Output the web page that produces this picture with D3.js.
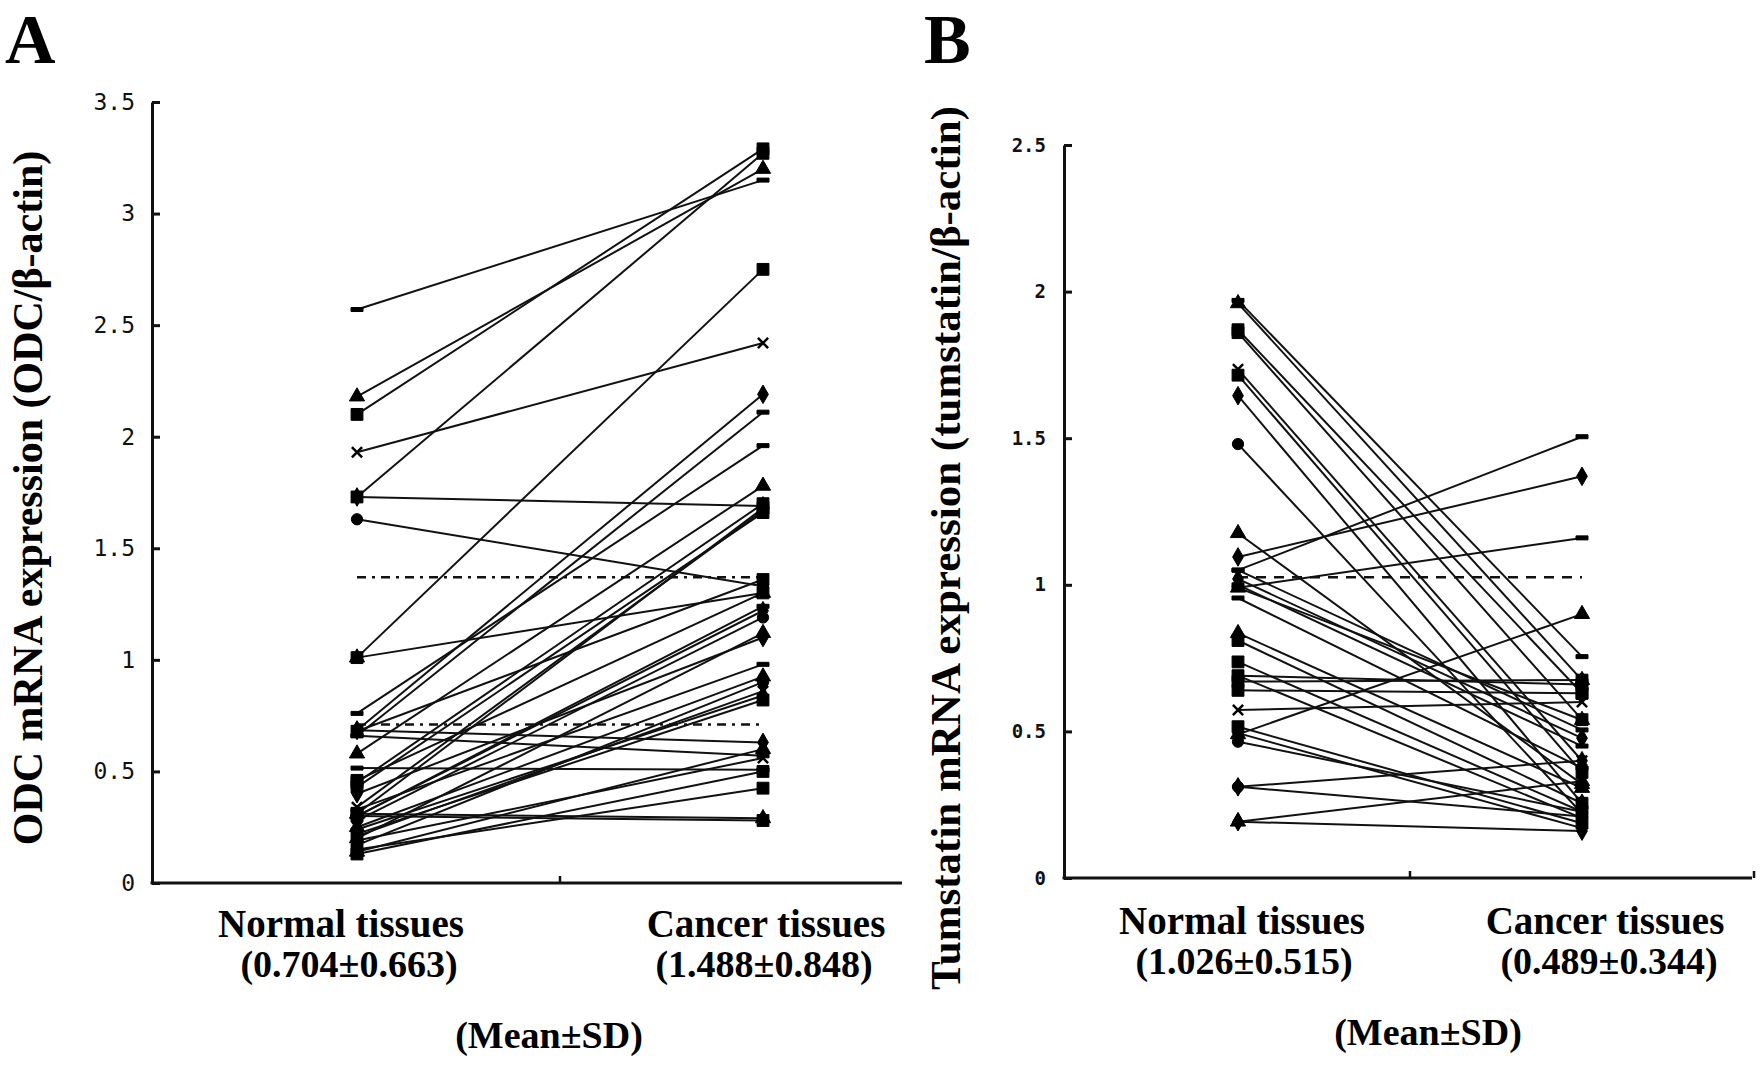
<!DOCTYPE html>
<html>
<head>
<meta charset="utf-8">
<script src="https://cdn.jsdelivr.net/npm/d3@7"></script>
<style>
  html, body { margin: 0; padding: 0; background: #fff; }
  svg { display: block; }
</style>
</head>
<body>
<svg id="chart" width="1764" height="1068"></svg>
<script>
// chart values
const categories = ["Normal tissues", "Cancer tissues"];

// panel A: ODC/beta-actin, one entry per patient
const odcNormal = [2.57, 2.18, 2.10, 1.73, 1.93, 1.01, 1.73, 1.63, 1.01, 0.76,
  0.685, 0.66, 0.58, 0.45, 0.43, 0.34, 0.31, 0.30, 0.28, 0.20,
  0.515, 0.685, 0.66, 0.31, 0.30, 0.15, 0.19, 0.22, 0.24, 0.17,
  0.25, 0.33, 0.40, 0.30, 0.14, 0.46, 0.68, 0.21, 0.13];
const odcCancer = [3.15, 3.20, 3.29, 3.27, 2.42, 2.75, 1.69, 1.33, 1.30, 1.96,
  2.19, 2.11, 1.78, 1.70, 1.66, 1.67, 1.68, 1.22, 1.19, 1.12,
  0.507, 0.63, 0.57, 0.29, 0.28, 0.425, 0.56, 0.82, 0.84, 0.90,
  0.925, 0.98, 1.10, 1.24, 0.60, 1.30, 1.36, 0.86, 0.50];
const odcRefLines = [1.37, 0.71];
const odcTicks = [0, 0.5, 1, 1.5, 2, 2.5, 3, 3.5];
const odcStats = ["(0.704\u00b10.663)", "(1.488\u00b10.848)"];

// panel B: tumstatin/beta-actin
const tumNormal = [1.97, 1.96, 1.87, 1.86, 1.735, 1.715, 1.645, 1.48, 1.176, 1.05,
  1.095, 0.99, 0.49, 0.67, 0.64, 0.573, 0.69, 0.311, 0.311, 0.192,
  1.05, 1.02, 0.955, 0.835, 0.81, 0.737, 0.69, 0.516, 0.494, 0.465,
  0.99, 1.0, 0.192];
const tumCancer = [0.755, 0.675, 0.63, 0.54, 0.40, 0.36, 0.255, 0.22, 0.32, 1.505,
  1.37, 1.16, 0.90, 0.675, 0.63, 0.60, 0.66, 0.40, 0.21, 0.33,
  0.505, 0.477, 0.375, 0.307, 0.255, 0.226, 0.204, 0.187, 0.17, 0.226,
  0.539, 0.45, 0.16];
const tumRefLines = [1.026];
const tumTicks = [0, 0.5, 1, 1.5, 2, 2.5];
const tumStats = ["(1.026\u00b10.515)", "(0.489\u00b10.344)"];

const markerCycle = ["dash", "triangle", "square", "square", "x", "square", "diamond", "circle", "triangle", "dash", "diamond"];

const svg = d3.select("#chart");
svg.append("rect").attr("width", 1764).attr("height", 1068).attr("fill", "#fff");

function markerPath(type) {
  if (type === "square") return d3.symbol(d3.symbolSquare, 140)();
  if (type === "triangle") return d3.symbol(d3.symbolTriangle, 100)();
  if (type === "diamond") return d3.symbol(d3.symbolDiamond, 100)();
  if (type === "circle") return d3.symbol(d3.symbolCircle, 100)();
  if (type === "x") return d3.symbol(d3.symbolTimes, 70)();
  return "M-6,-2H6V2H-6Z";
}

function drawPanel(p) {
  const g = svg.append("g");
  const x = d3.scalePoint().domain(categories).range(p.xRange).padding(0.5);
  const y = d3.scaleLinear().domain([0, p.yMax]).range(p.yRange);
  const step = x.step();

  // patient lines
  const pairs = p.normal.map((v, i) => [v, p.cancer[i]]);
  const line = d3.line().x((d, i) => x(categories[i])).y(d => y(d));
  g.append("g").selectAll("path")
    .data(pairs)
    .enter()
    .append("path")
    .attr("d", d => line(d))
    .attr("fill", "none")
    .attr("stroke", "#111")
    .attr("stroke-width", 2);

  // reference lines
  g.append("g").selectAll("line")
    .data(p.refLines)
    .enter()
    .append("line")
    .attr("x1", x(categories[0]))
    .attr("x2", x(categories[1]))
    .attr("y1", d => y(d))
    .attr("y2", d => y(d))
    .attr("stroke", "#111")
    .attr("stroke-width", 2.5)
    .attr("stroke-dasharray", p.refDash);

  // markers at both ends
  const pts = [];
  pairs.forEach((d, i) => {
    const type = markerCycle[i % markerCycle.length];
    pts.push({ c: categories[0], v: d[0], type });
    pts.push({ c: categories[1], v: d[1], type });
  });
  g.append("g").selectAll("path")
    .data(pts)
    .enter()
    .append("path")
    .attr("transform", d => `translate(${x(d.c)},${y(d.v)})`)
    .attr("d", d => markerPath(d.type))
    .attr("fill", d => d.type === "x" ? "none" : "#000")
    .attr("stroke", "#000")
    .attr("stroke-width", d => d.type === "x" ? 2.5 : 1);

  // y axis
  const yAxis = d3.axisLeft(y)
    .tickValues(p.ticks)
    .tickFormat(d => d3.format("")(d))
    .tickSize(-8)
    .tickSizeOuter(0)
    .tickPadding(p.tickPad);
  const ya = g.append("g")
    .attr("transform", `translate(${p.xRange[0] - 2},0)`)
    .call(yAxis);
  ya.select(".domain").attr("stroke", "#111").attr("stroke-width", 3);
  ya.selectAll(".tick line").attr("stroke", "#111").attr("stroke-width", 3);
  ya.selectAll(".tick text")
    .attr("font-family", "'DejaVu Sans Mono', monospace")
    .attr("font-size", p.tickFont)
    .attr("font-weight", p.tickWeight)
    .attr("fill", "#111");

  // x axis line with category separator ticks
  const y0 = y(0);
  g.append("line")
    .attr("x1", p.xRange[0] - 3.5).attr("x2", p.xAxisEnd)
    .attr("y1", y0).attr("y2", y0)
    .attr("stroke", "#111").attr("stroke-width", 3);
  const sepTicks = [x(categories[0]) + step / 2];
  if (p.endTick) sepTicks.push(x(categories[1]) + step / 2);
  g.append("g").selectAll("line")
    .data(sepTicks)
    .enter()
    .append("line")
    .attr("x1", d => d).attr("x2", d => d)
    .attr("y1", y0).attr("y2", y0 - 7)
    .attr("stroke", "#111").attr("stroke-width", 2.5);

  // category labels
  const serif = "'Liberation Serif', 'Times New Roman', serif";
  categories.forEach((c, i) => {
    g.append("text")
      .attr("x", x(c) + p.catOffset[i])
      .attr("y", p.catBaseline)
      .attr("text-anchor", "middle")
      .attr("font-family", serif)
      .attr("font-weight", "bold")
      .attr("font-size", 39)
      .text(c);
    g.append("text")
      .attr("x", x(c) + p.statOffset[i])
      .attr("y", p.catBaseline + 40)
      .attr("text-anchor", "middle")
      .attr("font-family", serif)
      .attr("font-weight", "bold")
      .attr("font-size", 38)
      .text(p.stats[i]);
  });
  g.append("text")
    .attr("x", x(categories[0]) + step / 2 + p.meanOffset)
    .attr("y", p.meanBaseline)
    .attr("text-anchor", "middle")
    .attr("font-family", serif)
    .attr("font-weight", "bold")
    .attr("font-size", 38)
    .text("(Mean\u00b1SD)");

  // y title
  g.append("text")
    .attr("transform", `translate(${p.titleX},${p.titleY}) rotate(-90)`)
    .attr("text-anchor", "middle")
    .attr("font-family", serif)
    .attr("font-weight", "bold")
    .attr("font-size", p.titleFont)
    .text(p.title);

  // panel letter
  g.append("text")
    .attr("x", p.letterX)
    .attr("y", 63)
    .attr("font-family", serif)
    .attr("font-weight", "bold")
    .attr("font-size", 70)
    .text(p.letter);
}

drawPanel({
  letter: "A", letterX: 5,
  normal: odcNormal, cancer: odcCancer, refLines: odcRefLines, refDash: "9,6,3,6",
  ticks: odcTicks, stats: odcStats, yMax: 3.5,
  xRange: [154, 966], yRange: [883, 102], xAxisEnd: 902, endTick: false,
  tickPad: 17, tickFont: 23, tickWeight: "normal",
  catOffset: [-16, 3], statOffset: [-8, 1], catBaseline: 937,
  meanOffset: -11, meanBaseline: 1048,
  title: "ODC mRNA expression (ODC/\u03b2-actin)", titleFont: 42, titleX: 42, titleY: 498
});

drawPanel({
  letter: "B", letterX: 924,
  normal: tumNormal, cancer: tumCancer, refLines: tumRefLines, refDash: "10,8",
  ticks: tumTicks, stats: tumStats, yMax: 2.5,
  xRange: [1066, 1754], yRange: [878, 145], xAxisEnd: 1752, endTick: true,
  tickPad: 18, tickFont: 19, tickWeight: "bold",
  catOffset: [4, 23], statOffset: [6, 27], catBaseline: 934,
  meanOffset: 18, meanBaseline: 1045,
  title: "Tumstatin mRNA expression (tumstatin/\u03b2-actin)", titleFont: 43, titleX: 960, titleY: 548
});
</script>
</body>
</html>
